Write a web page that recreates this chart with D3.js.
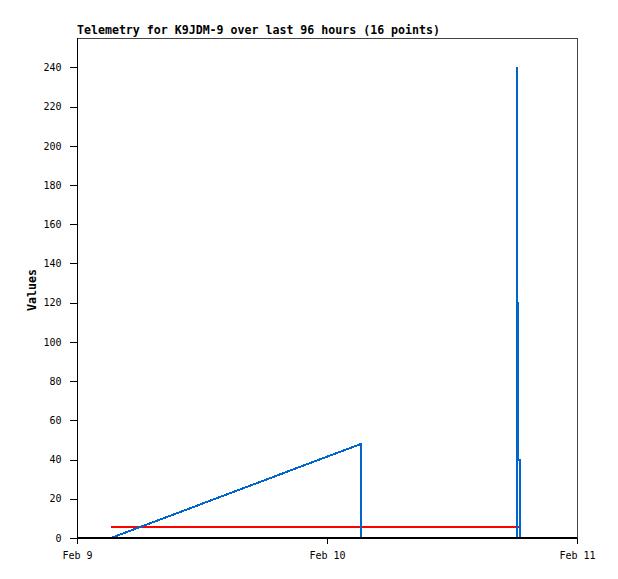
<!DOCTYPE html>
<html>
<head>
<meta charset="utf-8">
<script src="https://cdn.jsdelivr.net/npm/d3@7"></script>
<style>
  html, body { margin: 0; padding: 0; background: #fff; }
  svg { display: block; }
  text { font-family: "DejaVu Sans Mono", monospace; fill: #000; }
</style>
</head>
<body>
<svg id="chart" width="618" height="579"></svg>
<script>
// ---- data ----
const titleText = "Telemetry for K9JDM-9 over last 96 hours (16 points)";
const yLabel = "Values";
// ramp part of the blue series
const blueRampTimes = ["2024-02-09T03:16Z", "2024-02-10T03:16Z", "2024-02-10T03:17Z", "2024-02-10T18:14Z"];
const blueRampValues = [0, 48, 0, 0];
// burst part of the blue series
const blueBurstTimes = ["2024-02-10T18:14Z", "2024-02-10T18:14Z", "2024-02-10T18:14Z",
                        "2024-02-10T18:20Z", "2024-02-10T18:32Z", "2024-02-10T18:37Z"];
const blueBurstValues = [0, 240, 200, 120, 40, 0];
const redTimes = ["2024-02-09T03:16Z", "2024-02-10T18:26Z"];
const redValues = [5.5, 5.5];
const yTicks = [0, 20, 40, 60, 80, 100, 120, 140, 160, 180, 200, 220, 240];
const xTicks = ["2024-02-09T00:00Z", "2024-02-10T00:00Z", "2024-02-11T00:00Z"];
const xDomain = ["2024-02-09T00:00Z", "2024-02-11T00:00Z"];
const yDomain = [0, 255];

// ---- layout ----
const svg = d3.select("#chart");
const L = 77, R = 577, T = 38, B = 538;

const x = d3.scaleUtc().domain(xDomain.map(d => new Date(d))).range([L, R]);
const y = d3.scaleLinear().domain(yDomain).range([B, T]);

// frame (top/right)
svg.append("path")
  .attr("d", `M${L},${T + 0.5}H${R + 0.5}V${B + 6}`)
  .attr("fill", "none").attr("stroke", "#444").attr("stroke-width", 1)
  .attr("shape-rendering", "crispEdges");

// series
const toPts = (ts, vs) => ts.map((t, i) => [new Date(t), vs[i]]);
const line = d3.line().x(d => x(d[0])).y(d => y(d[1]));
const stepLine = d3.line().x(d => x(d[0])).y(d => y(d[1])).curve(d3.curveStepBefore);

svg.append("path").datum(toPts(redTimes, redValues)).attr("d", line)
  .attr("fill", "none").attr("stroke", "#ff0000").attr("stroke-width", 2)
  .attr("shape-rendering", "crispEdges");
svg.append("path").datum(toPts(blueRampTimes, blueRampValues)).attr("d", line)
  .attr("fill", "none").attr("stroke", "#0066cc").attr("stroke-width", 2)
  .attr("shape-rendering", "crispEdges");
svg.append("path").datum(toPts(blueBurstTimes, blueBurstValues)).attr("d", stepLine)
  .attr("fill", "none").attr("stroke", "#0066cc").attr("stroke-width", 2)
  .attr("shape-rendering", "crispEdges");

// y axis
const yAxis = d3.axisLeft(y).tickValues(yTicks).tickSize(8).tickPadding(8).tickFormat(d3.format("d"));
const gy = svg.append("g").attr("transform", `translate(${L + 0.5},0)`).call(yAxis);
gy.select(".domain").attr("d", `M0,${T}V${B + 3}`).attr("stroke", "#000").attr("shape-rendering", "crispEdges");
gy.selectAll(".tick line").attr("stroke", "#000").attr("shape-rendering", "crispEdges");
gy.selectAll(".tick text").style("font-family", '"DejaVu Sans Mono", monospace').style("font-size", "10px").attr("fill", "#000");

// x axis
const xAxis = d3.axisBottom(x).tickValues(xTicks.map(d => new Date(d))).tickSize(6).tickPadding(8)
  .tickFormat(d3.utcFormat("%b %-d"));
const gx = svg.append("g").attr("transform", `translate(0,${B})`).call(xAxis);
gx.select(".domain").attr("d", `M${L},0H${R}`).attr("stroke", "#000").attr("stroke-width", 2)
  .attr("shape-rendering", "crispEdges");
gx.selectAll(".tick line").attr("stroke", "#000").attr("shape-rendering", "crispEdges");
gx.selectAll(".tick text").style("font-family", '"DejaVu Sans Mono", monospace').style("font-size", "10px").attr("fill", "#000");

// title
svg.append("text").attr("x", L).attr("y", 34)
  .style("font-size", "11.6px").style("font-weight", "bold")
  .text(titleText);

// y label
svg.append("text")
  .attr("transform", `translate(36,290) rotate(-90)`)
  .attr("text-anchor", "middle")
  .style("font-size", "11.6px").style("font-weight", "bold")
  .text(yLabel);
</script>
</body>
</html>
